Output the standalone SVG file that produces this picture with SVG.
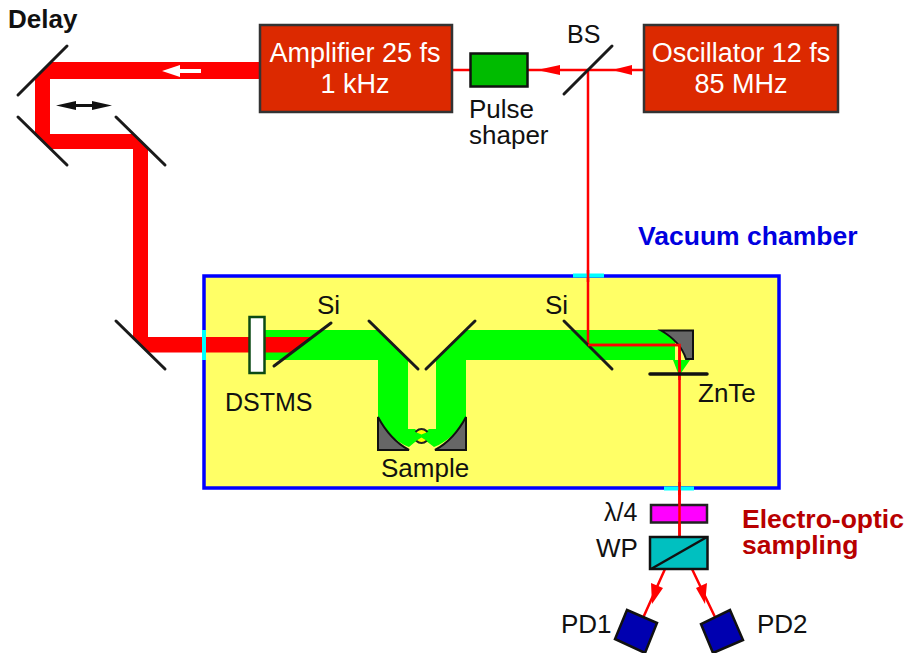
<svg xmlns="http://www.w3.org/2000/svg" width="906" height="653" viewBox="0 0 906 653">
<style>
text{font-family:"Liberation Sans",Arial,sans-serif;font-size:26px;fill:#111}
.w{fill:#fff;text-anchor:middle;font-size:27px}
.b{font-weight:bold}
.box{fill:#dc2900;stroke:#333;stroke-width:2.5}
.m{stroke:#1a1a1a;stroke-width:3;fill:none;stroke-linecap:round}
.thin{stroke:#f00;stroke-width:2.5;fill:none}
.g{fill:#0f0}
.r{fill:#f00}
.gray{fill:#666;stroke:#111;stroke-width:2}
.win{stroke:#0ff;stroke-width:4;fill:none}
.pd{fill:#0000b0;stroke:#111;stroke-width:2.5}
</style>
<g id="chamber">
<rect x="204" y="276" width="575" height="212" fill="#ffff66" stroke="#0000ff" stroke-width="3.5"/>
<text x="638" y="245" class="b" style="fill:#0000e0;font-size:26.500px">Vacuum chamber</text>
</g>
<g id="connectors">
<path class="g" d="M264 330H378L408 360V429H415L421 435L429 429H436V360L466 330H675V360H690L681 373H678L673 360H466V417C458 432 447 442 434 447L421 437L409 447C396 442 386 432 378 417V360H264Z"/>
<path class="r" d="M260 62H51L35 78V134L50 149H133V338L148 352.500H292L312 337H148V149L133 134H50V79H260Z"/>
<path class="thin" d="M452 70H470M528 70H644M588 70V345H679.500V538"/>
<path class="thin" d="M665 569L643 618M692 569L715 617"/>
<path class="r" d="M537 70L560 65V75ZM612 70L632 65V75Z"/>
<path class="r" d="M652 604L651 583L663 588ZM705 604L696 588L707 583Z"/>
<path d="M162 71L180 65V69H201V73H180V77Z" fill="#fff"/>
<path d="M56 105.500L76 101V104H92V101L112 105.500L92 110V107H76V110Z" fill="#111"/>
<path class="win" d="M204 330V360"/>
</g>
<g id="windows"><path class="win" d="M573 275.500H604M664 488.500H694"/><path class="thin" d="M588 270V282M679.500 482V495"/></g>
<g id="amplifier"><rect class="box" x="260" y="25" width="192" height="87"/><text class="w" x="355" y="62">Amplifier 25 fs</text><text class="w" x="355" y="93">1 kHz</text></g>
<g id="oscillator"><rect class="box" x="644" y="25" width="194" height="87"/><text class="w" x="741" y="62">Oscillator 12 fs</text><text class="w" x="741" y="93">85 MHz</text></g>
<g id="pulse-shaper"><rect x="470.500" y="53.500" width="57" height="33" fill="#00bb00" stroke="#111" stroke-width="2.500"/><text x="469" y="118">Pulse<tspan x="469" y="144">shaper</tspan></text></g>
<g id="bs"><path class="m" d="M564 94L612 46"/><text x="567" y="43" style="font-size:25px">BS</text></g>
<g id="delay"><text x="8" y="28" class="b">Delay</text><path class="m" d="M18 95L67 46M18 117L67 165M116 117L165 165"/></g>
<g id="mirror-lower"><path class="m" d="M116 321L165 369"/></g>
<g id="dstms"><rect x="249.500" y="317" width="15" height="56" fill="#fff" stroke="#0b4a14" stroke-width="2.500"/><text x="225" y="411" style="font-size:25px">DSTMS</text></g>
<g id="si1"><path class="m" d="M274 366L331 323"/><text x="317" y="314">Si</text></g>
<g id="mirrors"><path class="m" d="M369 321L418 369M426 369L475 321"/></g>
<g id="sample">
<path class="gray" d="M378 417V450H409C396 443 386 432 378 417ZM466 417V450H435C448 443 458 432 466 417Z"/>
<circle cx="421.500" cy="436" r="7" fill="#ffff00" stroke="#222" stroke-width="2"/>
<path class="g" d="M408 429L421.500 434.500L435 429V446L421.500 437.500L408 446Z"/>
<text x="381" y="477">Sample</text>
</g>
<g id="si2"><path class="m" d="M564 321L612 369"/><text x="545" y="314">Si</text></g>
<g id="znte">
<path class="gray" d="M661 330.500H693V359H686C682 346 674 338 661 330.500Z"/>
<path class="thin" d="M588 345H679.500V380"/>
<path d="M650 374H707" stroke="#111" stroke-width="3.500" stroke-linecap="round"/>
<text x="698" y="402">ZnTe</text>
</g>
<g id="lambda4"><rect x="651" y="505" width="56" height="17.500" fill="#ff00ff" stroke="#222" stroke-width="2.500"/><path class="thin" d="M679.500 490V538"/><text x="604" y="521" style="font-size:25px">λ/4</text></g>
<g id="wp"><rect x="650" y="537" width="57.500" height="32" fill="#00c0c0" stroke="#111" stroke-width="2.500"/><path d="M651 569L707 537" stroke="#111" stroke-width="2.500"/><text x="596" y="557">WP</text></g>
<g id="pd1"><path class="pd" d="M627 610L657 623L645 653L615 639Z"/><text x="561" y="633">PD1</text></g>
<g id="pd2"><path class="pd" d="M730 610L743 640L713 653L701 624Z"/><text x="757" y="633">PD2</text></g>
<g id="eo"><text x="742" y="528" class="b" style="fill:#b80000;font-size:26.500px">Electro-optic<tspan x="742" y="554">sampling</tspan></text></g>
</svg>
